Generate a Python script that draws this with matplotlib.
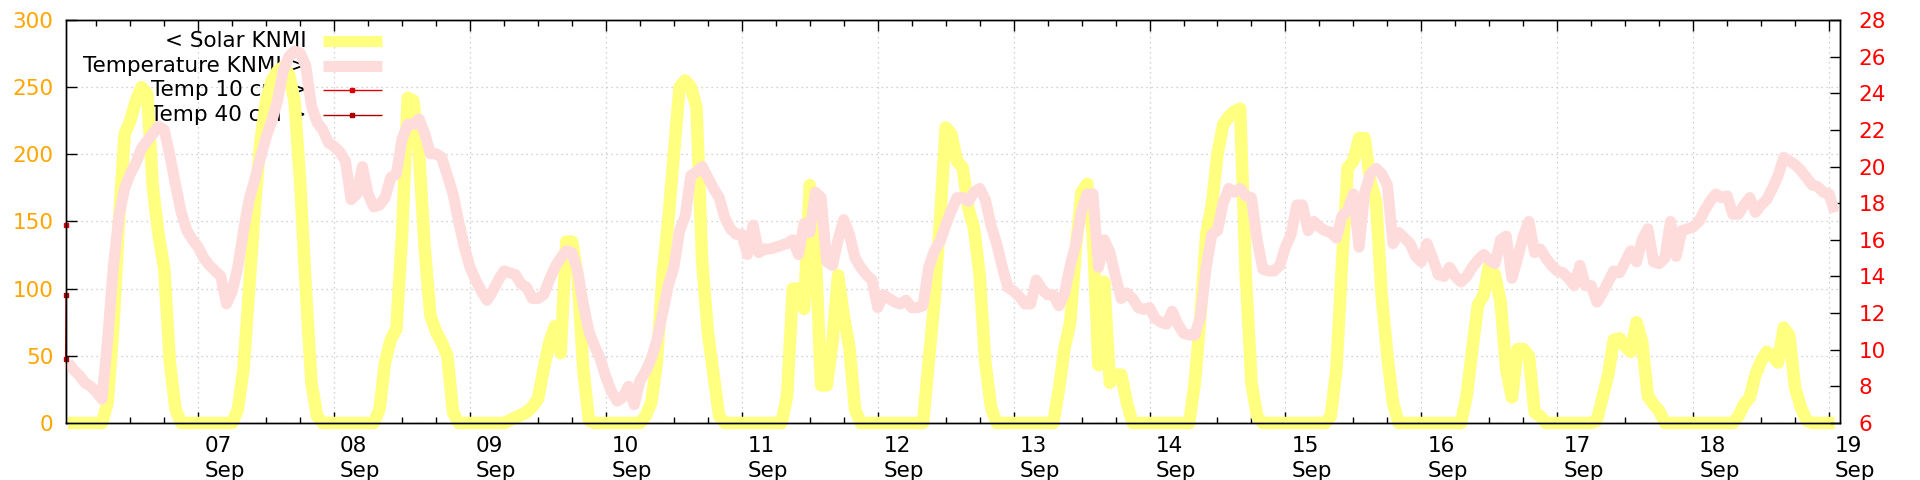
import numpy as np
import pandas as pd
import matplotlib
matplotlib.use("Agg")
import matplotlib.pyplot as plt
import matplotlib.dates as mdates
from matplotlib.lines import Line2D
from matplotlib.transforms import ScaledTranslation

# hourly KNMI values, first sample 06 Sep 01:00
first_hour = "2021-09-06 01:00"

# solar radiation (left axis)
solar = [
    0, 0, 0, 0, 0, 0, 0, 15, 70, 150, 215, 225, 240, 250, 245, 175, 140, 115, 45, 10, 0,
    0, 0, 0, 0, 0, 0, 0, 0, 0,
    10, 40, 100, 160, 210, 240, 255, 262, 265, 260, 240, 180, 100, 30, 5,
    0, 0, 0, 0, 0, 0, 0, 0, 0, 0,
    10, 45, 62, 70, 140, 242, 240, 200, 130, 80, 68, 60, 50, 8,
    0, 0, 0, 0, 0, 0, 0, 0, 0,
    2, 4, 6, 8, 12, 18, 40, 60, 72, 52, 135, 135, 110, 40, 2,
    0, 0, 0, 0, 0, 0, 0, 0, 0,
    5, 15, 45, 110, 150, 200, 250, 255, 250, 235, 120, 68, 36, 5,
    0, 0, 0, 0, 0, 0, 0, 0, 0, 0, 0,
    20, 100, 100, 85, 177, 130, 28, 28, 60, 110, 80, 56, 10,
    0, 0, 0, 0, 0, 0, 0, 0, 0, 0, 0, 0,
    45, 90, 150, 220, 215, 195, 190, 160, 145, 110, 45, 12,
    0, 0, 0, 0, 0, 0, 0, 0, 0, 0, 0,
    25, 56, 75, 130, 172, 178, 140, 43, 105, 30, 36, 36, 15,
    0, 0, 0, 0, 0, 0, 0, 0, 0, 0, 0,
    30, 80, 140, 162, 200, 222, 228, 232, 234, 110, 30, 5,
    0, 0, 0, 0, 0, 0, 0, 0, 0, 0, 0, 0,
    5, 40, 120, 190, 195, 212, 212, 180, 165, 95, 50, 15,
    0, 0, 0, 0, 0, 0, 0, 0, 0, 0, 0, 0,
    20, 55, 88, 95, 118, 110, 90, 40, 19, 55, 55, 50, 8, 5,
    0, 0, 0, 0, 0, 0, 0, 0, 0,
    2, 19, 36, 62, 63, 57, 53, 75, 60, 20, 14, 9,
    0, 0, 0, 0, 0, 0, 0, 0, 0, 0, 0, 0, 0,
    5, 14, 19, 36, 46, 53, 50, 45, 71, 65, 26, 12, 2,
    0, 0, 0, 0, 0,
]

# air temperature (right axis), 24 values per row
temperature = [
    9.3, 8.9, 8.6, 8.2, 8.0, 7.7, 7.3, 10.5, 14.5, 17.3, 18.8, 19.6, 20.2, 21.0, 21.4, 21.8, 22.2, 22.0, 20.6, 19.0, 17.5, 16.5, 16.0, 15.6,
    15.0, 14.6, 14.3, 14.0, 12.5, 13.2, 14.5, 16.5, 18.2, 19.3, 20.5, 21.6, 22.5, 23.6, 25.2, 26.0, 26.3, 26.2, 25.5, 23.3, 22.4, 22.0, 21.3, 21.1,
    20.8, 20.3, 18.2, 18.5, 20.0, 18.5, 17.8, 17.9, 18.3, 19.4, 19.6, 21.5, 22.3, 22.3, 22.6, 21.8, 20.7, 20.7, 20.5, 19.5, 18.5, 17.0, 15.6, 14.5,
    13.8, 13.2, 12.7, 13.2, 13.8, 14.3, 14.2, 14.1, 13.6, 13.4, 12.8, 12.8, 13.0, 13.8, 14.5, 15.0, 15.4, 15.3, 14.3, 12.5, 11.0, 10.2, 9.5, 8.5,
    7.7, 7.2, 7.4, 8.0, 7.0, 8.3, 8.8, 9.5, 10.5, 12.0, 13.5, 14.5, 16.5, 17.3, 19.5, 19.7, 20.0, 19.4, 18.8, 18.3, 17.2, 16.6, 16.3, 16.3,
    15.2, 16.8, 15.3, 15.5, 15.5, 15.6, 15.7, 15.8, 16.0, 15.2, 16.9, 16.4, 18.6, 18.3, 14.8, 14.6, 16.0, 17.1, 16.3, 15.0, 14.5, 14.1, 13.8, 12.3,
    13.0, 12.8, 12.6, 12.5, 12.7, 12.3, 12.3, 12.4, 14.5, 15.4, 15.9, 16.8, 17.6, 18.3, 18.3, 18.1, 18.6, 18.8, 18.2, 16.8, 15.8, 14.5, 13.4, 13.2,
    12.9, 12.5, 12.5, 13.8, 13.3, 13.0, 13.0, 12.4, 13.1, 14.6, 15.8, 17.6, 18.5, 18.5, 14.5, 16.0, 15.3, 14.0, 12.8, 13.1, 12.8, 12.3, 12.2, 12.3,
    11.7, 11.5, 11.4, 12.1, 11.4, 10.9, 10.8, 10.8, 11.8, 14.5, 16.3, 16.5, 18.0, 18.8, 18.6, 18.8, 18.4, 18.3, 16.0, 14.4, 14.3, 14.3, 14.6, 15.6,
    16.3, 17.9, 17.9, 16.5, 17.0, 16.7, 16.5, 16.4, 16.1, 17.3, 17.6, 18.5, 15.6, 18.6, 19.6, 19.9, 19.6, 19.0, 15.8, 16.4, 16.1, 15.8, 15.1, 14.8,
    15.8, 15.0, 14.1, 14.0, 14.5, 14.0, 13.7, 14.0, 14.5, 14.9, 15.2, 14.9, 14.7, 16.0, 16.2, 13.9, 15.0, 16.2, 17.0, 15.3, 15.5, 15.0, 14.6, 14.3,
    14.2, 13.9, 13.5, 14.6, 13.5, 13.5, 12.6, 13.1, 13.7, 14.3, 14.2, 14.8, 15.4, 14.8, 16.0, 16.6, 14.8, 14.7, 15.0, 17.0, 15.1, 16.5, 16.6, 16.7,
    17.0, 17.6, 18.1, 18.5, 18.3, 18.4, 17.4, 17.4, 17.9, 18.3, 17.5, 17.9, 18.2, 18.8, 19.5, 20.5, 20.3, 20.1, 19.8, 19.4, 19.0, 18.9, 18.6, 18.5,
    17.5,
]

# soil temperatures, only a few samples at the very start
soil10_times = ["2021-09-06 00:36"]
soil10 = [16.8]
soil40_times = ["2021-09-06 00:41", "2021-09-06 00:36"]
soil40 = [13.0, 9.5]

legend_labels = ["< Solar KNMI", "Temperature KNMI >", "Temp 10 cm >", "Temp 40 cm >"]

x_from = pd.Timestamp("2021-09-06 00:36")
x_to = pd.Timestamp("2021-09-19 01:56")

YELLOW = "#ffff80"
PINK = "#ffdcdc"
RED10 = "#dd0000"
RED40 = "#aa0000"
FS = 15.5

assert len(solar) == len(temperature)
times = pd.date_range(first_hour, periods=len(solar), freq="h")

W, H = 1920, 480
fig = plt.figure(figsize=(W / 100, H / 100), dpi=100)
x0, x1, y0, y1 = 65.7, 1840.0, 20.0, 423.0
ax = fig.add_axes([x0 / W, 1 - y1 / H, (x1 - x0) / W, (y1 - y0) / H])
ax2 = ax.twinx()

def fx(px):
    return (px - x0) / (x1 - x0)

def fy(py):
    return (y1 - py) / (y1 - y0)

# legend text sits under the curves, like gnuplot does
rows = [40.7, 65.7, 90.0, 115.0]
for lab, ry in zip(legend_labels, rows):
    ax.text(fx(307), fy(ry), lab, transform=ax.transAxes, ha="right", va="center",
            fontsize=FS, color="black", zorder=1)

ax.plot(times, solar, color=YELLOW, lw=9, solid_joinstyle="round",
        solid_capstyle="butt", zorder=2, clip_on=False)
ax2.plot(times, temperature, color=PINK, lw=8, solid_joinstyle="round",
         solid_capstyle="butt", zorder=2, clip_on=False)
ax2.plot(pd.to_datetime(soil10_times), soil10, color=RED10, lw=1, marker="s",
         ms=3, zorder=3, clip_on=False)
ax2.plot(pd.to_datetime(soil40_times), soil40, color=RED40, lw=1, marker="s",
         ms=3, zorder=3, clip_on=False)

# legend samples
samples = [
    dict(color=YELLOW, lw=8),
    dict(color=PINK, lw=8),
    dict(color=RED10, lw=1),
    dict(color=RED40, lw=1),
]
for i, (st, ry) in enumerate(zip(samples, rows)):
    ax2.add_line(Line2D([fx(323), fx(382)], [fy(ry), fy(ry)], transform=ax2.transAxes,
                        solid_capstyle="butt", zorder=4, **st))
    if i >= 2:
        ax2.add_line(Line2D([fx(352)], [fy(ry)], transform=ax2.transAxes, marker="s",
                            ms=3, color=st["color"], lw=0, zorder=4))

ax.set_xlim(x_from, x_to)
ax.set_ylim(0, 300)
ax2.set_ylim(6, 28)

ax.yaxis.set_major_locator(plt.MultipleLocator(50))
ax2.yaxis.set_major_locator(plt.MultipleLocator(2))
ax.xaxis.set_major_locator(mdates.DayLocator())
ax.xaxis.set_minor_locator(mdates.HourLocator(byhour=[6, 12, 18]))
ax.xaxis.set_major_formatter(mdates.DateFormatter("%d\n%b"))

ax.tick_params(axis="y", which="major", direction="in", length=8, width=1,
               color="black", labelcolor="#ffa500", labelsize=FS, pad=9)
ax2.tick_params(axis="y", which="major", direction="in", length=7, width=1,
                color="black", labelcolor="#ff0000", labelsize=FS, pad=13.5)
ax.tick_params(axis="x", which="major", direction="in", length=8, width=1,
               top=True, bottom=True, labelsize=FS, pad=9)
ax.tick_params(axis="x", which="minor", direction="in", length=4, width=1,
               top=True, bottom=True)

shift = ScaledTranslation(6 / 100, 0, fig.dpi_scale_trans)
for lab in ax.get_xticklabels():
    lab.set_horizontalalignment("left")
    lab.set_linespacing(1.34)
    lab.set_transform(lab.get_transform() + shift)

ax.grid(True, which="major", color="#c4c4c4", linestyle=(0, (1, 3)), lw=0.9)
ax.set_axisbelow(True)
for a in (ax, ax2):
    for sp in a.spines.values():
        sp.set_color("black")
        sp.set_linewidth(1)
        sp.set_zorder(5)

fig.savefig("out.png", dpi=100)
